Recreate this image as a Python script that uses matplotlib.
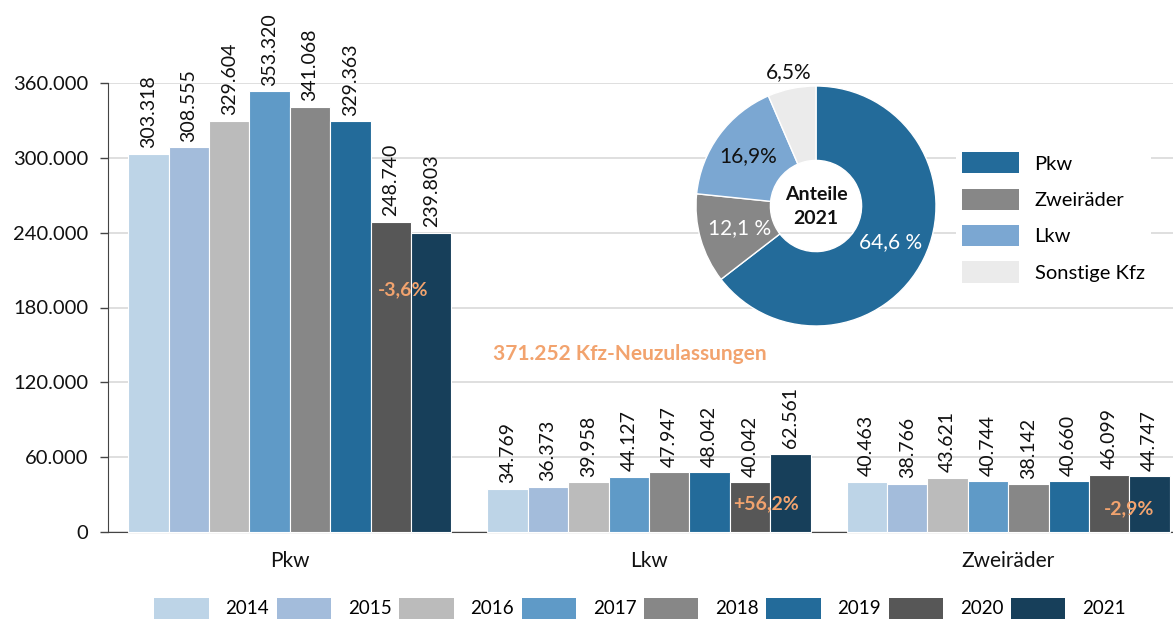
import numpy as np
import matplotlib.pyplot as plt
from matplotlib.patches import Patch
from matplotlib.ticker import FuncFormatter

plt.rcParams['font.family'] = ['Lato', 'DejaVu Sans']

# data
years = ['2014', '2015', '2016', '2017', '2018', '2019', '2020', '2021']
categories = ['Pkw', 'Lkw', 'Zweiräder']
pkw = [303318, 308555, 329604, 353320, 341068, 329363, 248740, 239803]
lkw = [34769, 36373, 39958, 44127, 47947, 48042, 40042, 62561]
zweiraeder = [40463, 38766, 43621, 40744, 38142, 40660, 46099, 44747]
changes = ['-3,6%', '+56,2%', '-2,9%']

pie_labels = ['Pkw', 'Zweiräder', 'Lkw', 'Sonstige Kfz']
pie_shares = [64.6, 12.1, 16.9, 6.5]
pie_texts = ['64,6 %', '12,1 %', '16,9%', '6,5%']

year_colors = ['#BDD4E7', '#A3BCDB', '#BBBBBB', '#5F9AC7',
               '#878787', '#236B9A', '#575757', '#173F5A']
pie_colors = ['#236B9A', '#878787', '#7BA7D2', '#EBEBEB']
orange = '#F2A36E'


def de_fmt(v):
    return f"{int(v):,}".replace(",", ".")


fig = plt.figure(figsize=(11.73, 6.2), dpi=100)
ax = fig.add_axes([108 / 1173, 1 - 532 / 620, 1 - 108 / 1173, 449 / 620])

group_step = 8.89
series = [pkw, lkw, zweiraeder]
for i, year in enumerate(years):
    xs = [g * group_step + i for g in range(len(categories))]
    vals = [s[i] for s in series]
    bars = ax.bar(xs, vals, width=1.0, color=year_colors[i], edgecolor='white',
                  linewidth=0.8, label=year, zorder=3, clip_on=False)
    ax.bar_label(bars, labels=[de_fmt(v) for v in vals], rotation=90,
                 padding=4, fontsize=14, color='#111111')

# change percentages between 2020 and 2021 bars
change_x = [6.3, 6.4, 6.5]
change_y = [194000, 23000, 18500]
for g, (txt, dx, y) in enumerate(zip(changes, change_x, change_y)):
    ax.text(g * group_step + dx, y, txt, ha='center', va='center',
            fontsize=14, fontweight='bold', color=orange, zorder=5)

ax.set_xlim(-1.0, 25.36)
ax.set_ylim(0, 360000)
ax.set_yticks(range(0, 360001, 60000))
ax.yaxis.set_major_formatter(FuncFormatter(lambda v, p: de_fmt(v)))
ax.set_xticks([g * group_step + 3.5 for g in range(len(categories))])
ax.set_xticklabels(categories)
ax.tick_params(axis='x', length=0, pad=14, labelsize=15, colors='#111111')
ax.tick_params(axis='y', length=6, width=1, pad=8, labelsize=14.5,
               colors='#444444', labelcolor='#111111')
ax.grid(axis='y', color='#D9D9D9', linewidth=1.2, zorder=0)
ax.set_axisbelow(True)
for side in ['top', 'right']:
    ax.spines[side].set_visible(False)
ax.spines['left'].set_color('#444444')
ax.spines['bottom'].set_color('#444444')
ax.spines['bottom'].set_zorder(1)

fig.text(630 / 1173, 1 - 354 / 620, '371.252 Kfz-Neuzulassungen', ha='center',
         va='center', fontsize=15, fontweight='bold', color=orange)

# bottom year legend
handles = [Patch(facecolor=c, edgecolor='none') for c in year_colors]
fig.legend(handles, years, loc='lower center', ncol=8, frameon=False,
           bbox_to_anchor=(640 / 1173, -0.013), fontsize=13.5,
           handlelength=2.9, handleheight=1.35, handletextpad=0.9,
           columnspacing=0.4, borderpad=0)

# donut chart
pax = fig.add_axes([696 / 1173, 1 - 326 / 620, 240 / 1173, 240 / 620])
wedges, _ = pax.pie(pie_shares, colors=pie_colors, startangle=90,
                    counterclock=False,
                    wedgeprops=dict(width=0.62, edgecolor='white', linewidth=1))
pax.set_xlim(-1, 1)
pax.set_ylim(-1, 1)
pax.set_aspect('equal')
label_r = [0.69, 0.66, 0.70, 1.14]
label_c = ['white', 'white', '#111111', '#111111']
for w, txt, r, c in zip(wedges, pie_texts, label_r, label_c):
    ang = np.deg2rad((w.theta1 + w.theta2) / 2)
    pax.text(r * np.cos(ang), r * np.sin(ang), txt, ha='center', va='center',
             fontsize=15, color=c)
pax.text(0, 0, 'Anteile\n2021', ha='center', va='center', fontsize=14,
         fontweight='bold', color='#111111', linespacing=1.5)

pie_handles = [Patch(facecolor=c, edgecolor='none') for c in pie_colors]
fig.legend(pie_handles, pie_labels, loc='upper left',
           bbox_to_anchor=(946 / 1173, 1 - 136 / 620), frameon=True,
           facecolor='white', edgecolor='none', framealpha=1, fancybox=False,
           fontsize=14.5, handlelength=2.8, handleheight=1.25,
           handletextpad=0.8, labelspacing=0.75, borderpad=0.3)

fig.savefig('out.png', dpi=100)
